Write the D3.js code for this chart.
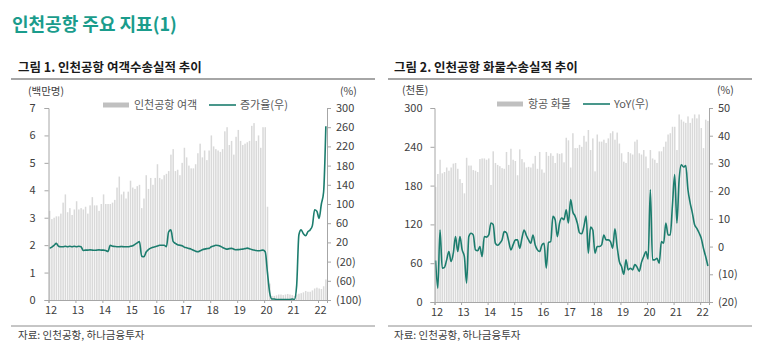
<!DOCTYPE html>
<html><head><meta charset="utf-8">
<script src="https://cdn.jsdelivr.net/npm/d3@7"></script>
<style>
html,body{margin:0;padding:0;background:#fff;}
svg text{font-family:"Noto Sans CJK KR","Noto Sans",sans-serif;}
</style></head>
<body><svg id="c" width="773" height="349"></svg>
<script>
// ---------- data ----------
const startYear = 2012;
const yearTicks = [2012,2013,2014,2015,2016,2017,2018,2019,2020,2021,2022];
const yearLabels = ["12","13","14","15","16","17","18","19","20","21","22"];

// Chart 1: Incheon airport passengers (million, monthly Jan-2012..Apr-2022)
const passengers = [
 3.25,2.95,3.0,3.05,3.05,3.15,3.55,3.85,3.2,3.35,3.1,3.3,
 3.6,3.3,3.35,3.3,3.4,3.15,3.45,3.75,3.45,3.45,3.25,3.5,
 3.85,3.5,3.5,3.5,3.55,3.65,4.1,4.5,3.85,3.95,3.7,3.95,
 4.35,4.1,4.05,4.15,4.2,3.35,3.7,4.55,4.05,4.45,4.2,4.45,
 4.95,4.45,4.4,4.55,4.6,4.7,5.3,5.5,4.7,4.75,4.55,5.0,
 5.55,5.2,4.9,4.8,4.8,4.95,5.35,5.7,5.2,5.45,5.1,5.45,
 6.0,5.6,5.5,5.45,5.4,5.5,6.15,6.3,5.65,5.8,5.3,5.95,
 6.2,5.8,5.65,5.7,5.75,5.8,6.35,6.45,5.8,6.0,5.55,6.3,
 6.3,3.4,0.6,0.15,0.15,0.17,0.2,0.2,0.18,0.2,0.22,0.2,
 0.18,0.15,0.2,0.23,0.25,0.28,0.33,0.3,0.3,0.35,0.42,0.45,
 0.42,0.4,0.5,0.75
];
// growth rate (%, right axis)
const passengerGrowth = [
 8,10,14,18,12,11,11,12,11,12,11,12,
 11,12,11,3,4,4,4.5,4,3.5,4,4.5,4,
 4,3,1,14,12,11.5,11,11,11.5,11,11,11,
 12,13,16,19,22,-9,-10,0,5,8,10,11,
 12.5,14,14,14,11,42,46,22,18,15,14,13,
 10,9,7.5,6,3.5,1.5,0.5,2.5,4.6,6,7,7.5,
 11,12.5,14,13.5,12,9.5,7.5,6,7,7.5,6,4.6,
 5,5.5,6,7,8,7,5,4,3,2.5,3,4,
 0.5,-43,-85,-98,-98,-99,-99,-99,-99,-99,-99,-99,
 -98,-99,-70,36,46,38,34,42,46,55,88,85,
 70,100,125,262
];

// Chart 2: air cargo (thousand tons)
const cargo = [
 178,198,220,199,201,208,203,208,214,215,206,190,
 184,168,223,211,211,204,203,201,221,222,222,220,
 222,181,233,215,212,210,207,206,232,212,237,220,
 218,196,236,221,216,208,209,208,214,226,206,232,
 205,200,232,226,230,226,215,230,229,230,216,254,
 250,208,261,238,238,243,240,257,248,266,235,253,
 202,259,248,248,251,246,253,261,264,251,262,245,
 230,217,215,232,230,228,248,251,230,228,235,225,
 207,235,222,220,215,233,233,240,248,259,261,271,
 271,235,290,282,279,277,287,277,284,290,284,290,
 269,238,282,280
];
// YoY (%, right axis)
const cargoYoY = [
 -5,-15,6,-7.8,-7.5,-4.8,-1.8,-5.4,-2.4,3.6,-1.8,3.6,
 -1.2,-3.6,-13.2,3.6,4.8,4.2,-1.2,-1.5,0,-3.6,3.6,3.4,
 4.2,8.5,8,1.2,0.5,1.2,2.4,5.4,5,2,-1.2,0.6,
 2.4,2.4,-0.6,3,6,4,2.4,1.2,4.2,0.6,-1.2,-1.8,
 0.5,1.2,-7.8,1.5,1.8,10.9,9.7,3.6,8.5,10.3,9.7,13.3,
 8.5,17,12.5,11,8.5,5,4.6,7.3,11,-2.4,7,6,
 -2.4,0,0,0.6,4.2,2.4,2.4,1.8,-0.6,6.4,0,-5.4,
 -7.2,-10,-4.8,-8.4,-7.8,-8.4,-6.5,-7.4,-9,-5.7,-3.6,-1.8,
 -4.5,20.5,-4.8,-4.8,-4.2,-6,1.8,1.2,8.5,4.2,4.2,15,
 26,8.5,24,29.5,28.7,29.2,20.5,15.7,12.1,7.9,6.6,5,
 3,-0.6,-3.6,-7
];

const leftTicksL = [0,1,2,3,4,5,6,7];
const leftTicksR = [-100,-60,-20,20,60,100,140,180,220,260,300];
const rightTicksL = [0,60,120,180,240,300];
const rightTicksR = [-20,-10,0,10,20,30,40,50];

// ---------- styles ----------
const TEAL = "#1c7d6e", BAR = "#d9d9d9", AX = "#a6a6a6", TXT = "#404040";
const svg = d3.select("#c");
const fmtPct = d => d < 0 ? "(" + Math.abs(d) + ")" : String(d);

// headers
svg.append("text").attr("x",12).attr("y",31).attr("font-size",18).attr("font-weight","bold")
  .attr("fill","#1a9c8c").text("인천공항 주요 지표(1)");

function chart(opt){
  const g = svg.append("g");
  // subtitle + rules
  g.append("text").attr("x",opt.hx).attr("y",72).attr("font-size",12.5).attr("font-weight","bold")
    .attr("fill","#1a1a1a").text(opt.title);
  g.append("line").attr("x1",opt.rx0).attr("x2",opt.rx1).attr("y1",79).attr("y2",79)
    .attr("stroke","#a6a6a6").attr("stroke-width",2);
  g.append("line").attr("x1",opt.rx0).attr("x2",opt.rx1).attr("y1",326).attr("y2",326)
    .attr("stroke","#8c8c8c").attr("stroke-width",1);
  g.append("text").attr("x",opt.hx).attr("y",339).attr("font-size",10.5).attr("fill",TXT)
    .text("자료: 인천공항, 하나금융투자");

  const x = d3.scaleLinear().domain([startYear, startYear + opt.span/12]).range([opt.x0, opt.x1]);
  const yL = d3.scaleLinear().domain(opt.domL).range([opt.yb, opt.yt]);
  const yR = d3.scaleLinear().domain(opt.domR).range([opt.yb, opt.yt]);
  const bw = 1.5;

  // bars
  g.append("g").selectAll("rect").data(opt.bars).join("rect")
    .attr("x",(d,i)=>x(startYear + i/12) + 0.4)
    .attr("width",bw)
    .attr("y",d=>yL(d)).attr("height",d=>yL(opt.domL[0]) - yL(d))
    .attr("fill",BAR);

  // line
  const line = d3.line().x((d,i)=>x(startYear + i/12) + 1.1).y(d=>yR(d)).curve(d3.curveMonotoneX);
  g.append("path").datum(opt.line).attr("d",line).attr("fill","none")
    .attr("stroke",TEAL).attr("stroke-width",1.6);

  // axes
  const axL = d3.axisLeft(yL).tickValues(opt.ticksL).tickSize(4).tickPadding(opt.padL).tickFormat(d3.format("d"));
  const axR = d3.axisRight(yR).tickValues(opt.ticksR).tickSize(4).tickPadding(5).tickFormat(fmtPct);
  const axB = d3.axisBottom(x).tickValues(yearTicks).tickSize(3).tickPadding(3)
    .tickFormat((d,i)=>yearLabels[i]);
  const gl = g.append("g").attr("transform",`translate(${opt.x0},0)`).call(axL);
  const gr = g.append("g").attr("transform",`translate(${opt.x1},0)`).call(axR);
  const gb = g.append("g").attr("transform",`translate(0,${opt.yb})`).call(axB);
  [gl,gr,gb].forEach(a=>{
    a.selectAll("path,line").attr("stroke",AX);
    a.selectAll("text").attr("font-size",11).attr("fill",TXT)
      .attr("font-family","'Noto Sans CJK KR',sans-serif");
  });
  gb.selectAll("text").attr("dx",2);

  // unit labels
  g.append("text").attr("x",opt.uLx).attr("y",opt.uy).attr("font-size",10.5).attr("fill",TXT).text(opt.unitL);
  g.append("text").attr("x",opt.uRx).attr("y",opt.uy).attr("font-size",10.5).attr("fill",TXT).text("(%)");

  // legend
  g.append("line").attr("x1",opt.lg1).attr("x2",opt.lg1+26).attr("y1",opt.ly).attr("y2",opt.ly)
    .attr("stroke","#c0c0c0").attr("stroke-width",5);
  g.append("text").attr("x",opt.lg1+31).attr("y",opt.ly+4).attr("font-size",11).attr("fill","#595959").text(opt.leg1);
  g.append("line").attr("x1",opt.lg2).attr("x2",opt.lg2+27).attr("y1",opt.ly).attr("y2",opt.ly)
    .attr("stroke",TEAL).attr("stroke-width",1.6);
  g.append("text").attr("x",opt.lg2+31).attr("y",opt.ly+4).attr("font-size",11).attr("fill","#595959").text(opt.leg2);
}

chart({
  title:"그림 1. 인천공항 여객수송실적 추이", hx:18, rx0:11, rx1:375,
  bars:passengers, line:passengerGrowth, span:124,
  x0:48.5, x1:327, yb:300, yt:108,
  domL:[0,7], domR:[-100,300], ticksL:leftTicksL, ticksR:leftTicksR, padL:9,
  unitL:"(백만명)", uLx:28, uRx:340, uy:95,
  lg1:103, lg2:209, ly:105, leg1:"인천공항 여객", leg2:"증가율(우)"
});
chart({
  title:"그림 2. 인천공항 화물수송실적 추이", hx:394, rx0:388, rx1:752,
  bars:cargo, line:cargoYoY, span:124,
  x0:434.5, x1:709, yb:302, yt:108,
  domL:[0,300], domR:[-20,50], ticksL:rightTicksL, ticksR:rightTicksR, padL:8,
  unitL:"(천톤)", uLx:402, uRx:717, uy:94,
  lg1:497, lg2:583, ly:104, leg1:"항공 화물", leg2:"YoY(우)"
});
</script></body></html>
